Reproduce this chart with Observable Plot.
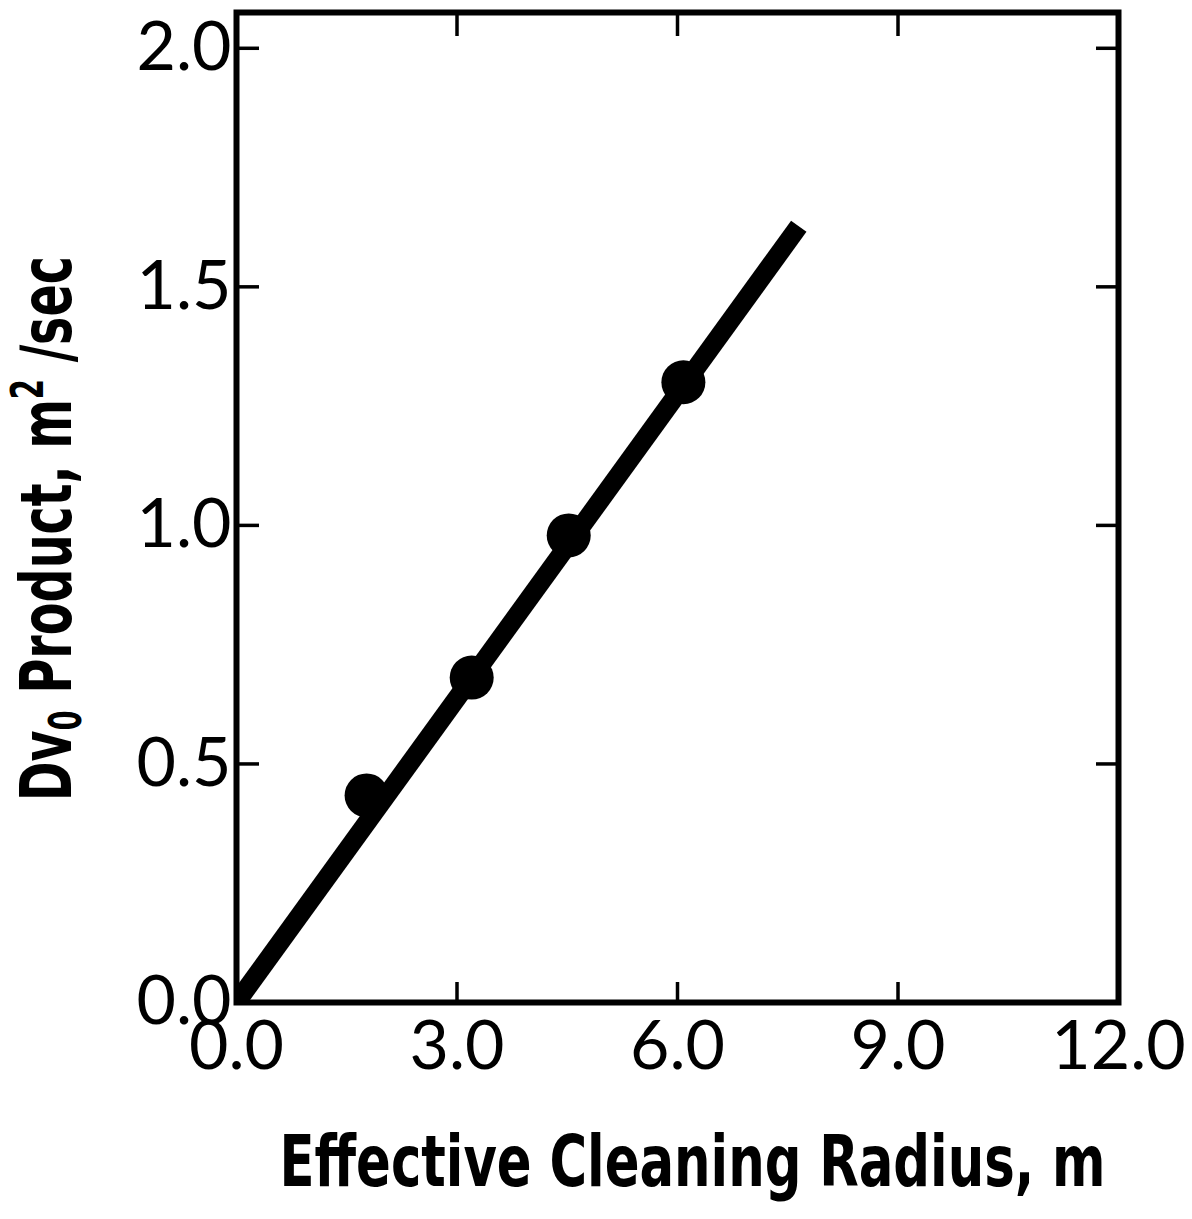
<!DOCTYPE html>
<html><head><meta charset="utf-8">
<script src="https://cdn.jsdelivr.net/npm/d3@7"></script>
<script src="https://cdn.jsdelivr.net/npm/@observablehq/plot@0.6"></script>
<style>body{margin:0;background:#fff} svg{display:block}</style>
</head><body><div id="chart"></div>
<script>
const radius = [1.77, 3.20, 4.52, 6.08];
const dvProduct = [0.434, 0.681, 0.979, 1.30];
const fitRadius = [0, 7.65];
const fitDv = [0, 1.627];
const xTicks = [0, 3, 6, 9, 12];
const yTicks = [0, 0.5, 1.0, 1.5, 2.0];
const xInnerTicks = [3, 6, 9];
const yInnerTicks = [0.5, 1.0, 1.5, 2.0];
const xTitle = "Effective Cleaning Radius, m";
const yTitle = "Dv0 Product, m2 /sec";

const points = radius.map((r, i) => ({r, dv: dvProduct[i]}));
const fit = fitRadius.map((r, i) => ({r, dv: fitDv[i]}));

const tickFont = "Lato, 'DejaVu Sans', sans-serif";
const titleFont = "'Liberation Sans Narrow', 'DejaVu Sans Condensed', sans-serif";

const chart = Plot.plot({
  width: 1192,
  height: 1219,
  marginLeft: 236,
  marginRight: 74,
  marginTop: 12,
  marginBottom: 217,
  style: {background: "#fff", color: "#000"},
  x: {domain: [0, 12]},
  y: {domain: [0, 2.075]},
  marks: [
    Plot.line(fit, {x: "r", y: "dv", stroke: "#000", strokeWidth: 19, strokeLinecap: "butt", clip: "frame"}),
    Plot.dot(points, {x: "r", y: "dv", r: 22, fill: "#000", stroke: "none"}),
    Plot.axisY(yTicks, {anchor: "left", tickSize: 0, tickPadding: 5, tickFormat: d => d.toFixed(1),
      fontSize: 68, fontFamily: tickFont, label: null}),
    Plot.axisX(xTicks, {anchor: "bottom", tickSize: 0, tickPadding: 18, tickFormat: d => d.toFixed(1),
      fontSize: 68, fontFamily: tickFont, label: null}),
    Plot.axisY(yInnerTicks, {anchor: "left", tickSize: -23, text: null, strokeWidth: 3.5, label: null}),
    Plot.axisY(yInnerTicks, {anchor: "right", tickSize: -23, text: null, strokeWidth: 3.5, label: null}),
    Plot.axisX(xInnerTicks, {anchor: "top", tickSize: -23, text: null, strokeWidth: 3.5, label: null}),
    Plot.axisX(xInnerTicks, {anchor: "bottom", tickSize: -20, text: null, strokeWidth: 3.5, label: null}),
    Plot.frame({stroke: "#000", strokeWidth: 6}),
    Plot.text([xTitle], {frameAnchor: "bottom", dx: 15, dy: 160, lineAnchor: "middle", textAnchor: "middle",
      fontSize: 72, fontWeight: "bold", fontFamily: titleFont}),
    Plot.text([yTitle], {frameAnchor: "left", dx: -189, dy: 21, rotate: -90, lineAnchor: "middle", textAnchor: "middle",
      fontSize: 72, fontWeight: "bold", fontFamily: titleFont})
  ]
});

document.getElementById("chart").appendChild(chart);

const svg = d3.select(chart);
svg.selectAll("text").each(function() {
  const t = d3.select(this);
  const s = this.textContent;
  if (s === xTitle) {
    t.attr("textLength", 826).attr("lengthAdjust", "spacingAndGlyphs");
  } else if (s === yTitle) {
    t.text(null);
    t.append("tspan").text("Dv");
    t.append("tspan").attr("font-size", 44).attr("dy", 10).text("0");
    t.append("tspan").attr("dy", -10).text(" Product, m");
    t.append("tspan").attr("font-size", 44).attr("dy", -28).text("2");
    t.append("tspan").attr("dy", 28).text(" /sec");
    t.attr("textLength", 545).attr("lengthAdjust", "spacingAndGlyphs");
  }
});
</script>
</body></html>
